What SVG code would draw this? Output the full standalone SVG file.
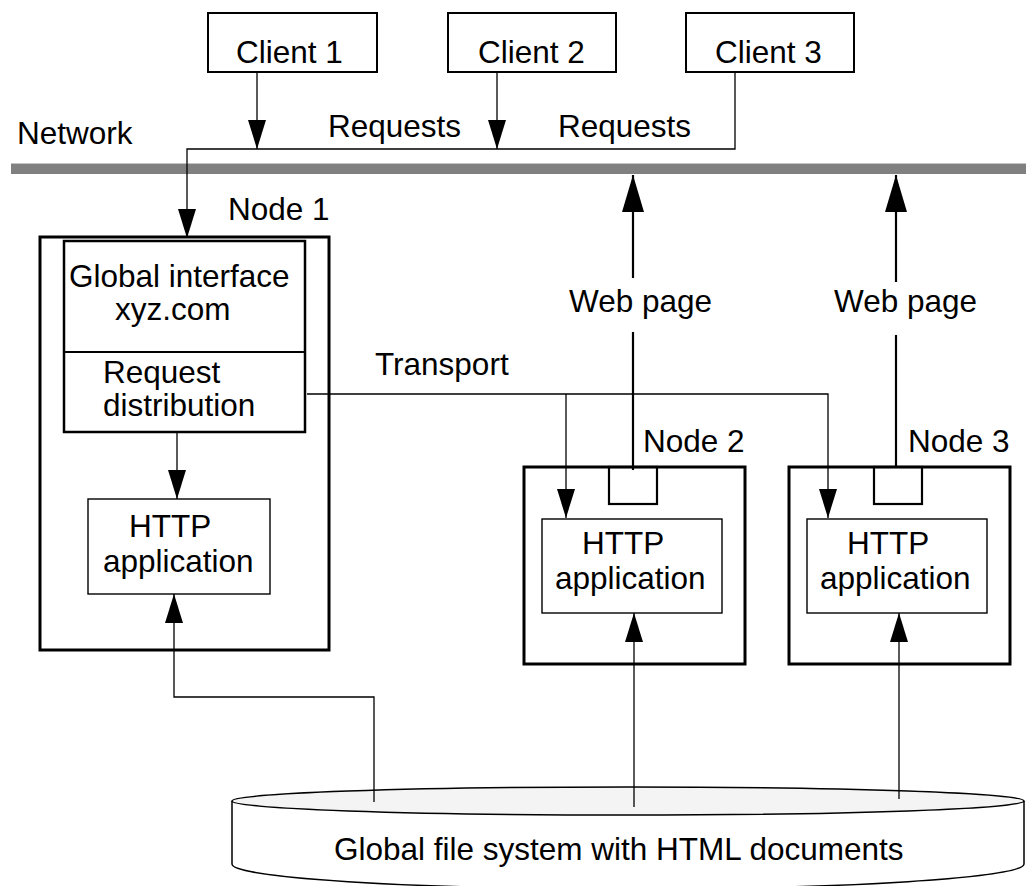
<svg xmlns="http://www.w3.org/2000/svg" width="1026" height="886" viewBox="0 0 1026 886">
  <style>
    text { font-family: "Liberation Sans", Arial, sans-serif; font-size: 31.5px; fill: #000; }
    .client { fill: #fff; stroke: #000; stroke-width: 2; }
    .outer { fill: none; stroke: #000; stroke-width: 3; }
    .inner { fill: none; stroke: #000; stroke-width: 2.5; }
    .app { fill: none; stroke: #000; stroke-width: 1.4; }
    .port { fill: none; stroke: #000; stroke-width: 2.2; }
    .thin { fill: none; stroke: #000; stroke-width: 1.3; }
    .thick { fill: none; stroke: #000; stroke-width: 2.2; }
  </style>
  <defs>
    <marker id="ah" markerUnits="userSpaceOnUse" markerWidth="30" markerHeight="18" refX="29" refY="9" orient="auto">
      <path d="M0,0 L29,9 L0,18 Z" fill="#000"/>
    </marker>
    <marker id="ahBig" markerUnits="userSpaceOnUse" markerWidth="38" markerHeight="22" refX="37" refY="11" orient="auto">
      <path d="M0,0 L37,11 L0,22 Z" fill="#000"/>
    </marker>
  </defs>
  <rect width="1026" height="886" fill="#fff"/>

  <!-- network backbone -->
  <g id="network">
    <rect x="11" y="163" width="1015" height="11" fill="#808080"/>
    <line x1="11" y1="163.5" x2="1026" y2="163.5" stroke="#c4c4c4" stroke-width="1"/>
    <text x="17" y="144">Network</text>
  </g>

  <!-- clients -->
  <g id="client1">
    <rect class="client" x="208" y="13" width="169" height="59"/>
    <text x="236" y="63">Client 1</text>
  </g>
  <g id="client2">
    <rect class="client" x="448" y="13" width="168" height="59"/>
    <text x="478" y="63">Client 2</text>
  </g>
  <g id="client3">
    <rect class="client" x="686" y="13" width="168" height="59"/>
    <text x="715" y="63">Client 3</text>
  </g>

  <!-- shared file system -->
  <g id="filesystem">
    <path d="M232,801 L232,864 A396,25 0 0 0 1024,864 L1024,801" fill="#fff" stroke="#000" stroke-width="1.5"/>
    <ellipse cx="628" cy="801" rx="396" ry="14" fill="#f4f4f4" stroke="#000" stroke-width="1.5"/>
    <text x="334" y="860">Global file system with HTML documents</text>
  </g>

  <!-- node 1 -->
  <g id="node1">
    <text x="228" y="220">Node 1</text>
    <rect class="outer" x="40" y="237" width="289" height="413"/>
    <rect class="inner" x="64" y="241" width="241" height="191"/>
    <line x1="64" y1="352" x2="305" y2="352" stroke="#000" stroke-width="2"/>
    <text x="69" y="287">Global interface</text>
    <text x="115" y="320">xyz.com</text>
    <text x="103" y="383">Request</text>
    <text x="103" y="416">distribution</text>
    <rect class="app" x="88" y="499" width="182" height="95"/>
    <text x="129" y="537">HTTP</text>
    <text x="103" y="572">application</text>
  </g>

  <!-- node 2 -->
  <g id="node2">
    <text x="643" y="452">Node 2</text>
    <rect class="outer" x="524" y="467" width="221" height="197"/>
    <rect class="port" x="609" y="467" width="48" height="37"/>
    <rect class="app" x="542" y="519" width="180" height="94"/>
    <text x="582" y="554">HTTP</text>
    <text x="555" y="589">application</text>
  </g>

  <!-- node 3 -->
  <g id="node3">
    <text x="908" y="452">Node 3</text>
    <rect class="outer" x="789" y="467" width="221" height="197"/>
    <rect class="port" x="874" y="467" width="48" height="37"/>
    <rect class="app" x="807" y="519" width="180" height="94"/>
    <text x="847" y="554">HTTP</text>
    <text x="820" y="589">application</text>
  </g>

  <!-- connectors -->
  <g id="connectors">
    <!-- client requests onto the network -->
    <line class="thin" x1="257" y1="72" x2="257" y2="149" marker-end="url(#ah)"/>
    <line class="thin" x1="497" y1="72" x2="497" y2="149" marker-end="url(#ah)"/>
    <polyline class="thin" points="735,72 735,149 187,149 187,238" marker-end="url(#ah)"/>
    <text x="328" y="137">Requests</text>
    <text x="558" y="137">Requests</text>

    <!-- request distribution to HTTP application on node 1 -->
    <line class="thin" x1="177" y1="432" x2="177" y2="499" marker-end="url(#ah)"/>

    <!-- transport to nodes 2 and 3 -->
    <polyline class="thin" points="307,394 828,394 828,518" marker-end="url(#ah)"/>
    <line class="thin" x1="566" y1="394" x2="566" y2="518" marker-end="url(#ah)"/>
    <text x="375" y="375">Transport</text>

    <!-- web pages back to the network -->
    <line class="thick" x1="633" y1="470" x2="633" y2="332"/>
    <line class="thick" x1="633" y1="278" x2="633" y2="175" marker-end="url(#ahBig)"/>
    <text x="569" y="312">Web page</text>
    <line class="thick" x1="896" y1="467" x2="896" y2="335"/>
    <line class="thick" x1="896" y1="282" x2="896" y2="175" marker-end="url(#ahBig)"/>
    <text x="834" y="312">Web page</text>

    <!-- file system to HTTP applications -->
    <polyline class="thin" points="374,802 374,697 174,697 174,594" marker-end="url(#ah)"/>
    <line class="thin" x1="634" y1="807" x2="634" y2="613" marker-end="url(#ah)"/>
    <line class="thin" x1="899" y1="799" x2="899" y2="613" marker-end="url(#ah)"/>
  </g>
</svg>
